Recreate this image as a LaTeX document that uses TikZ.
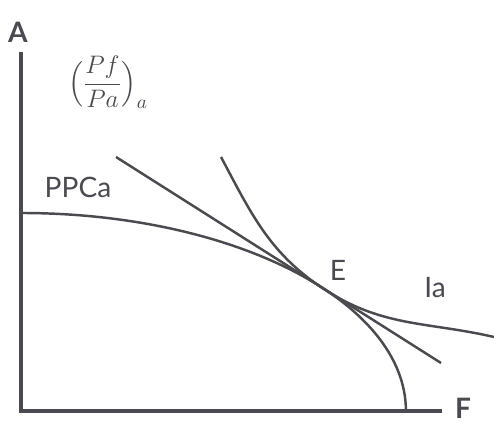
\documentclass[tikz,border=0pt]{standalone}
\usepackage{amsmath}
\usepackage{fontspec}
\setmainfont{Lato}
\usepackage{tikz}
\usetikzlibrary{positioning}
\definecolor{ink}{HTML}{4A4A50}

\begin{document}
\begin{tikzpicture}[
    x=0.02cm, y=0.02cm,
    axis/.style={draw=ink, line width=1.8pt},
    crv/.style={draw=ink, line width=1.4pt},
    lbl/.style={text=ink, inner sep=0pt, font=\fontsize{16}{19}\selectfont},
    axlbl/.style={text=ink, inner sep=0pt, font=\fontsize{16}{19}\selectfont\bfseries},
  ]
    \useasboundingbox (0,0) rectangle (494,422);

    % ---------- axes ----------
    \coordinate (O)  at (21,11);
    \coordinate (Ay) at (21,370);
    \coordinate (Fx) at (442,11);
    \draw[axis] (Ay) -- (O) -- (Fx);
    \node[axlbl] (A) at (18,390) {A};
    \node[axlbl] (F) at (463,14) {F};

    % ---------- PPC, tangent, indifference curve ----------
    \coordinate (E)  at (327,131);
    \coordinate (p0) at (21,209);
    \draw[crv] (p0) arc[start angle=90, end angle=0, x radius=7.7cm, y radius=3.96cm];

    \coordinate (t0) at (116,265);
    \coordinate (t1) at (441,59);
    \draw[crv] (t0) -- (t1);

    \coordinate (i0) at (221,265);
    \coordinate (i1) at (494,85);
    \draw[crv] (i0) to[out=-62, in=147.6] (E) to[out=-32.4, in=167] (i1);

    % ---------- labels ----------
    \node[text=ink, font=\fontsize{15}{18}\selectfont] (ratio) at (108,340)
      {$\Bigl(\dfrac{Pf}{Pa}\Bigr)_{a}$};
    \node[lbl] (ppc) at (78,235) {PPCa};
    \node[lbl] (lE)  at (338,152) {E};
    \node[lbl] (lIa) at (435,134) {Ia};
\end{tikzpicture}
\end{document}
